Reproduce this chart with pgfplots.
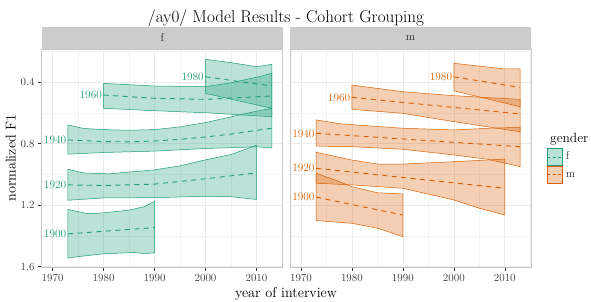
\documentclass[border=0pt]{standalone}
\usepackage{pgfplots}
\pgfplotsset{compat=1.18}
\definecolor{fcol}{HTML}{1B9E77}
\definecolor{mcol}{HTML}{D95F02}
\newcommand{\tickfont}{\fontsize{11.4}{13}\selectfont}
\newcommand{\labfont}{\fontsize{14.3}{16}\selectfont}
\pgfplotsset{
 panel/.style={
  width=241bp, height=218.2bp, scale only axis,
  xmin=1967.85, xmax=2015.15, ymin=0.183, ymax=1.604, y dir=reverse,
  xtick={1970,1980,1990,2000,2010}, ytick={0.4,0.8,1.2,1.6},
  minor xtick={1975,1985,1995,2005,2015}, minor ytick={0.2,0.6,1.0,1.4},
  grid=both, major grid style={black!8,line width=0.6bp}, minor grid style={black!5,line width=0.35bp},
  axis line style={black!22,line width=0.6bp},
  tick align=outside, tick pos=left, major tick length=3.5bp, minor tick length=0pt,
  major tick style={black!80,line width=0.5bp},
  tick label style={font=\tickfont, text=black!75},
  xticklabel style={/pgf/number format/1000 sep={}},
  yticklabel style={/pgf/number format/fixed,/pgf/number format/fixed zerofill,/pgf/number format/precision=1},
  clip=false,
 },
 fband/.style={draw=fcol,line width=0.5bp,fill=fcol,fill opacity=0.3,forget plot},
 mband/.style={draw=mcol,line width=0.5bp,fill=mcol,fill opacity=0.3,forget plot},
 fmean/.style={fcol,line width=0.9bp,dash pattern=on 5bp off 4.5bp,forget plot},
 mmean/.style={mcol,line width=0.9bp,dash pattern=on 5bp off 4.5bp,forget plot},
}
\begin{document}
\begin{tikzpicture}
% ---------------- f panel ----------------
\begin{axis}[panel, name=f, at={(0,0)}, anchor=south west]
% 1980
\addplot[fband] coordinates {(2000,0.250) (2005,0.272) (2010,0.298) (2013,0.283) (2013,0.569) (2000,0.472)} -- cycle;
% 1960
\addplot[fband] coordinates {(1980,0.407) (1990,0.424) (2000,0.428) (2005,0.403) (2010,0.367) (2013,0.341) (2013,0.624) (2000,0.598) (1990,0.585) (1980,0.569)} -- cycle;
% 1940
\addplot[fband] coordinates {(1973,0.678) (1976,0.700) (1980,0.708) (1985,0.712) (1990,0.708) (1995,0.690) (2000,0.662) (2005,0.625) (2010,0.588) (2013,0.569) (2013,0.827) (2010,0.820) (2000,0.831) (1990,0.848) (1980,0.857) (1973,0.868)} -- cycle;
% 1920
\addplot[fband] coordinates {(1973,0.966) (1976,0.990) (1981,0.996) (1990,0.970) (1995,0.944) (2000,0.905) (2005,0.870) (2010,0.810) (2010,1.163) (2005,1.145) (2000,1.142) (1990,1.151) (1980,1.153) (1973,1.168)} -- cycle;
% 1900
\addplot[fband] coordinates {(1973,1.228) (1977,1.256) (1980,1.250) (1985,1.232) (1988,1.210) (1990,1.175) (1990,1.510) (1988,1.516) (1986,1.508) (1980,1.517) (1975,1.535) (1973,1.545)} -- cycle;
% means
\addplot[fmean] coordinates {(2000,0.364) (2013,0.424)};
\addplot[fmean] coordinates {(1980,0.483) (1990,0.504) (2000,0.511) (2013,0.489)};
\addplot[fmean] coordinates {(1973,0.775) (1980,0.786) (1985,0.788) (1990,0.782) (1995,0.771) (2000,0.756) (2005,0.737) (2010,0.713) (2013,0.699)};
\addplot[fmean] coordinates {(1973,1.068) (1980,1.072) (1990,1.063) (2000,1.028) (2010,0.990)};
\addplot[fmean] coordinates {(1973,1.387) (1990,1.346)};
\begin{scope}[every node/.style={anchor=east, text=fcol, font=\tickfont, inner sep=1.5bp}]
\node at (axis cs:2000,0.364) {1980};
\node at (axis cs:1980,0.483) {1960};
\node at (axis cs:1973,0.775) {1940};
\node at (axis cs:1973,1.068) {1920};
\node at (axis cs:1973,1.387) {1900};
\end{scope}
\end{axis}
% ---------------- m panel ----------------
\begin{axis}[panel, name=m, at={(248.3bp,0)}, anchor=south west,
  yticklabels={}, ytick style={draw=none},
  legend style={draw=none, fill=none, at={(1.065,0.546)}, anchor=north west, inner sep=0pt, row sep=0pt, column sep=3bp,
    nodes={inner sep=0pt, anchor=base west}, font=\tickfont, text=black!80},
  legend cell align=left]
\addlegendimage{legend image code/.code={
  \fill[fcol,fill opacity=0.3] (0bp,-6bp) rectangle (15bp,11bp);
  \draw[fcol,line width=0.5bp] (0bp,-6bp) rectangle (15bp,11bp);
  \draw[fcol,line width=0.9bp,dash pattern=on 3bp off 2.5bp] (0bp,2.5bp) -- (15bp,2.5bp);}}
\addlegendentry{f}
\addlegendimage{legend image code/.code={
  \fill[mcol,fill opacity=0.3] (0bp,-6bp) rectangle (15bp,11bp);
  \draw[mcol,line width=0.5bp] (0bp,-6bp) rectangle (15bp,11bp);
  \draw[mcol,line width=0.9bp,dash pattern=on 3bp off 2.5bp] (0bp,2.5bp) -- (15bp,2.5bp);}}
\addlegendentry{m}
% 1980
\addplot[mband] coordinates {(2000,0.276) (2006,0.298) (2010,0.313) (2013,0.313) (2013,0.559) (2000,0.455)} -- cycle;
% 1960
\addplot[mband] coordinates {(1980,0.418) (1990,0.461) (2000,0.487) (2013,0.511) (2013,0.722) (2000,0.656) (1990,0.602) (1980,0.576)} -- cycle;
% 1940
\addplot[mband] coordinates {(1973,0.645) (1978,0.671) (1990,0.699) (2000,0.710) (2007,0.699) (2013,0.693) (2013,0.949) (2006.6,0.901) (2000,0.873) (1990,0.836) (1980,0.819) (1973,0.815)} -- cycle;
% 1920
\addplot[mband] coordinates {(1973,0.856) (1980,0.906) (1985,0.932) (1990,0.932) (2000,0.917) (2010,0.900) (2010,1.264) (2005,1.220) (2000,1.166) (1990,1.090) (1980,1.068) (1973,1.057)} -- cycle;
% 1900
\addplot[mband] coordinates {(1973,0.993) (1977.6,1.047) (1980,1.080) (1985,1.119) (1990,1.127) (1990,1.405) (1985,1.350) (1980,1.318) (1973,1.300)} -- cycle;
% means
\addplot[mmean] coordinates {(2000,0.364) (2013,0.433)};
\addplot[mmean] coordinates {(1980,0.498) (2013,0.606)};
\addplot[mmean] coordinates {(1973,0.732) (2013,0.819)};
\addplot[mmean] coordinates {(1973,0.960) (2010,1.090)};
\addplot[mmean] coordinates {(1973,1.148) (1990,1.264)};
\begin{scope}[every node/.style={anchor=east, text=mcol, font=\tickfont, inner sep=1.5bp}]
\node at (axis cs:2000,0.364) {1980};
\node at (axis cs:1980,0.498) {1960};
\node at (axis cs:1973,0.732) {1940};
\node at (axis cs:1973,0.960) {1920};
\node at (axis cs:1973,1.148) {1900};
\end{scope}
\end{axis}
% strips
\fill[black!20] (f.north west) rectangle ([yshift=22bp]f.north east);
\fill[black!20] (m.north west) rectangle ([yshift=22bp]m.north east);
\node[font=\tickfont, text=black!85] at ([yshift=11bp]f.north) {f};
\node[font=\tickfont, text=black!85] at ([yshift=11bp]m.north) {m};
% title and labels
\node[anchor=base, font=\fontsize{17.2}{20}\selectfont] at (244.3bp,244.7bp) {/ay0/ Model Results - Cohort Grouping};
\node[anchor=base, font=\labfont] at (244.3bp,-29.8bp) {year of interview};
\node[anchor=base, rotate=90, font=\labfont] at (-26.2bp,109.2bp) {normalized F1};
\node[anchor=base west, font=\fontsize{13.5}{15}\selectfont] at (505bp,124.7bp) {gender};
\pgfresetboundingbox
\path[use as bounding box] (-41.7bp,-34.8bp) rectangle (549.3bp,267.2bp);
\end{tikzpicture}
\end{document}
